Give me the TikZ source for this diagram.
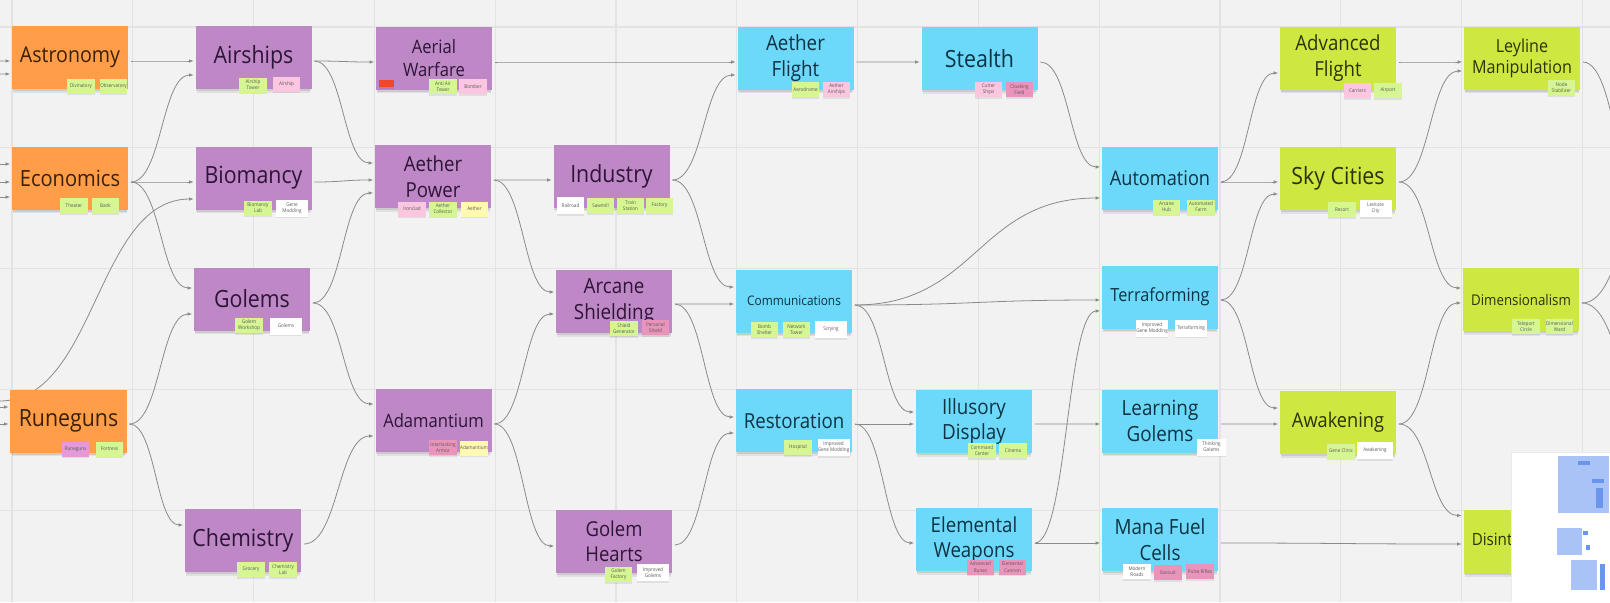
\documentclass[tikz,border=0pt]{standalone}
\usepackage{fontspec}
\setmainfont{Open Sans}[FakeStretch=0.9]
\usetikzlibrary{arrows.meta,calc,shadows,backgrounds}

\definecolor{board}{HTML}{F2F2F2}
\definecolor{gridc}{HTML}{E3E3E3}
\definecolor{orangebox}{HTML}{FF9D48}
\definecolor{purplebox}{HTML}{BE88C7}
\definecolor{bluebox}{HTML}{6CD8FA}
\definecolor{limebox}{HTML}{CEE741}
\definecolor{orangetext}{HTML}{3B2005}
\definecolor{purpletext}{HTML}{2E1437}
\definecolor{bluetext}{HTML}{0D3342}
\definecolor{limetext}{HTML}{2C3309}
\definecolor{greennote}{HTML}{D5F692}
\definecolor{pinknote}{HTML}{FBC6DF}
\definecolor{rosenote}{HTML}{EA94BB}
\definecolor{yellownote}{HTML}{FFF9B1}
\definecolor{violetnote}{HTML}{E39AD7}
\definecolor{rednote}{HTML}{F24726}
\definecolor{stickytext}{HTML}{5A5A5A}
\definecolor{linkc}{HTML}{8A8A8A}
\definecolor{mapblue}{HTML}{A9C3F7}
\definecolor{mapdark}{HTML}{6A95EC}

\newcommand\techfont[1]{\fontsize{#1}{14.5}\selectfont}
\newcommand\stickyfont{\fontsize{2.9}{3.5}\selectfont}

\begin{document}
\begin{tikzpicture}[x=0.2mm, y=-0.2mm]

        % Styles
        \tikzstyle{tech}=[minimum width=23.2mm, minimum height=12.6mm, inner sep=0pt, align=center, font=\techfont{13.5}, general shadow={fill=black, opacity=.07, shadow yshift=-.9mm, shadow scale=.975}, general shadow={fill=black, opacity=.09, shadow yshift=-.5mm, shadow scale=.99}]
        \tikzstyle{orange tech}=[tech, fill=orangebox, text=orangetext]
        \tikzstyle{purple tech}=[tech, fill=purplebox, text=purpletext]
        \tikzstyle{blue tech}=[tech, fill=bluebox, text=bluetext]
        \tikzstyle{lime tech}=[tech, fill=limebox, text=limetext]
        \tikzstyle{sticky}=[minimum width=5.5mm, minimum height=3mm, inner sep=0pt, align=center, font=\stickyfont, text=stickytext, general shadow={fill=black, opacity=.08, shadow yshift=-.3mm}]
        \tikzstyle{green note}=[sticky, fill=greennote]
        \tikzstyle{pink note}=[sticky, fill=pinknote]
        \tikzstyle{rose note}=[sticky, fill=rosenote]
        \tikzstyle{yellow note}=[sticky, fill=yellownote]
        \tikzstyle{violet note}=[sticky, fill=violetnote]
        \tikzstyle{white note}=[sticky, fill=white, minimum width=6.4mm, minimum height=3.4mm]
        \tikzstyle{red note}=[sticky, fill=rednote, minimum width=3mm, minimum height=1.4mm]
        \tikzstyle{gridline}=[draw=gridc, line width=.6pt]
        \tikzstyle{link}=[draw=linkc, line width=.45pt, -{Latex[length=.9mm,width=.7mm]}, shorten <=.5mm, shorten >=.3mm]
        \tikzstyle{hcurve}=[to path={let \p1=(\tikztostart), \p2=(\tikztotarget) in .. controls ({.5*\x1+.5*\x2},\y1) and ({.5*\x1+.5*\x2},\y2) .. (\tikztotarget)}]

        %board
        \useasboundingbox (0,0) rectangle (1610,602);
        \begin{pgfonlayer}{background}
            \fill[board] (0,0) rectangle (1610,602);
            \foreach \gx in {0,...,13}
                \draw[gridline] ({12+120.8*\gx},0) -- ({12+120.8*\gx},602);
            \foreach \gy in {0,...,4}
                \draw[gridline] (0,{27+120.8*\gy}) -- (1610,{27+120.8*\gy});
        \end{pgfonlayer}

        %first era
        \node[orange tech, font=\techfont{12.4}] (astro) at (70,57.5) {Astronomy};
        \node[orange tech, font=\techfont{12.7}] (econ) at (70,178) {Economics};
        \node[orange tech] (rune) at (68.5,421) {Runeguns};

        %purple column
        \node[purple tech] (air) at (253.5,57.5) {Airships};
        \node[purple tech] (bio) at (253.5,178) {Biomancy};
        \node[purple tech] (golem) at (252,299) {Golems};
        \node[purple tech] (chem) at (243,540.5) {Chemistry};
        \node[purple tech, font=\fontsize{10.5}{13}\selectfont] (aerial) at (434,58) {Aerial\\Warfare};
        \node[purple tech, font=\techfont{11.8}] (apower) at (433,176.5) {Aether\\Power};
        \node[purple tech, font=\techfont{10.5}] (adam) at (433.5,420.5) {Adamantium};
        \node[purple tech] (industry) at (611.5,176) {Industry};
        \node[purple tech, font=\techfont{11.9}] (arcane) at (614,301.5) {Arcane\\Shielding};
        \node[purple tech, font=\techfont{11.7}] (ghearts) at (614,541.5) {Golem\\Hearts};

        %blue column
        \node[blue tech, font=\techfont{11.9}] (aflight) at (795.5,58) {Aether\\Flight};
        \node[blue tech, font=\techfont{7.5}] (comm) at (794,301) {Communications};
        \node[blue tech, font=\techfont{11.8}] (resto) at (794,420.5) {Restoration};
        \node[blue tech] (stealth) at (979.5,58.5) {Stealth};
        \node[blue tech, font=\techfont{11.9}] (illus) at (974,421.5) {Illusory\\Display};
        \node[blue tech, font=\techfont{11.8}] (elem) at (974,539.5) {Elemental\\Weapons};
        \node[blue tech, font=\techfont{11.5}] (auto) at (1160,178.5) {Automation};
        \node[blue tech, font=\techfont{10.3}] (terra) at (1160,297) {Terraforming};
        \node[blue tech, font=\techfont{11.9}] (learn) at (1160,421) {Learning\\Golems};
        \node[blue tech, font=\techfont{11.9}] (mana) at (1160,539.5) {Mana Fuel\\Cells};

        %lime column
        \node[lime tech, font=\techfont{11.8}] (advfl) at (1338,58) {Advanced\\Flight};
        \node[lime tech] (sky) at (1338,178.5) {Sky Cities};
        \node[lime tech, font=\techfont{11.5}] (awak) at (1338,422.5) {Awakening};
        \node[lime tech, font=\fontsize{10.2}{12}\selectfont] (ley) at (1522,58) {Leyline\\Manipulation};
        \node[lime tech, font=\techfont{8.4}] (dim) at (1521,299.5) {Dimensionalism};
        \node[lime tech, font=\techfont{9.6}] (disin) at (1521.5,541.5) {Disintegration};

        %stickies
        \node[green note] (astro1) at (81,86) {Divinatory};
        \node[green note] (astro2) at (113.5,86) {Observatory};
        \node[green note] (econ1) at (74,205.5) {Theater};
        \node[green note] (econ2) at (105.5,205.5) {Bank};
        \node[violet note] (rune1) at (75.5,449) {Runeguns};
        \node[green note] (rune2) at (109.5,449) {Fortress};
        \node[green note] (air1) at (253,85) {Airship\\Tower};
        \node[pink note] (air2) at (286.5,84) {Airship};
        \node[green note] (bio1) at (258,208) {Biomancy\\Lab};
        \node[white note] (bio2) at (292,208) {Gene\\Modding};
        \node[green note] (golem1) at (249,325.5) {Golem\\Workshop};
        \node[white note] (golem2) at (286,326) {Golems};
        \node[green note] (chem1) at (251,569.5) {Grocery};
        \node[green note] (chem2) at (283,569.5) {Chemistry\\Lab};
        \node[red note] (aerial1) at (386.5,83.5) {};
        \node[green note] (aerial2) at (443,86.5) {Anti Air\\Tower};
        \node[pink note] (aerial3) at (473,86.5) {Bomber};
        \node[pink note] (apower1) at (412,209) {Ironclad};
        \node[green note] (apower2) at (443,209) {Aether\\Collector};
        \node[yellow note] (apower3) at (474.5,209) {Aether};
        \node[rose note] (adam1) at (443,447.5) {Interlocking\\Armor};
        \node[yellow note] (adam2) at (474,448) {Adamantium};
        \node[white note, minimum width=5.5mm] (industry1) at (570.5,205.5) {Railroad};
        \node[green note] (industry2) at (600.5,205.5) {Sawmill};
        \node[green note] (industry3) at (630.5,205.5) {Train\\Station};
        \node[green note] (industry4) at (659.5,205.5) {Factory};
        \node[green note] (arcane1) at (624,328.5) {Shield\\Generator};
        \node[rose note] (arcane2) at (655.5,327.5) {Personal\\Shield};
        \node[green note] (ghearts1) at (618.5,574.5) {Golem\\Factory};
        \node[white note] (ghearts2) at (653,572.5) {Improved\\Golems};
        \node[green note] (aflight1) at (805.5,89.5) {Aerodrome};
        \node[pink note] (aflight2) at (836.5,89.5) {Aether\\Airships};
        \node[green note] (comm1) at (764.5,329.5) {Bomb\\Shelter};
        \node[green note] (comm2) at (796.5,329.5) {Network\\Tower};
        \node[white note] (comm3) at (831,329.5) {Scrying};
        \node[green note] (resto1) at (798,447.5) {Hospital};
        \node[white note] (resto2) at (833.5,447.5) {Improved\\Gene Modding};
        \node[pink note] (stealth1) at (988.5,89.5) {Cutter\\Ships};
        \node[rose note] (stealth2) at (1019.5,89.5) {Cloaking\\Field};
        \node[green note] (illus1) at (982,450.5) {Command\\Center};
        \node[green note] (illus2) at (1013,450.5) {Cinema};
        \node[rose note] (elem1) at (980.5,567) {Advanced\\Runes};
        \node[rose note] (elem2) at (1012.5,567) {Elemental\\Cannon};
        \node[green note] (auto1) at (1166.5,207) {Arcane\\Hub};
        \node[green note] (auto2) at (1201,207) {Automated\\Farm};
        \node[white note] (terra1) at (1152,328) {Improved\\Gene Modding};
        \node[white note] (terra2) at (1191,328) {Terraforming};
        \node[white note, minimum width=5.8mm] (learn1) at (1211.5,447) {Thinking\\Golems};
        \node[white note, minimum width=5.6mm, minimum height=3mm] (mana1) at (1137,571.5) {Modern\\Roads};
        \node[rose note] (mana2) at (1168,572.5) {Exosuit};
        \node[rose note] (mana3) at (1200,571.5) {Pulse Rifles};
        \node[pink note] (advfl1) at (1357.5,90.5) {Carriers};
        \node[green note] (advfl2) at (1388,90.5) {Airport};
        \node[green note] (sky1) at (1342,209.5) {Resort};
        \node[white note] (sky2) at (1375.5,208.5) {Levitate\\City};
        \node[green note] (awak1) at (1341,451) {Gene Clinic};
        \node[white note, minimum width=7.2mm] (awak2) at (1375,450.5) {Awakening};
        \node[green note] (ley1) at (1561.5,87.5) {Node\\Stabilizer};
        \node[green note] (dim1) at (1526,326.5) {Teleport\\Circle};
        \node[green note] (dim2) at (1559.5,326.5) {Dimensional\\Ward};

        %loose ends off the board
        \coordinate (in1) at (-20,61);
        \coordinate (in2) at (-20,74);
        \coordinate (in3) at (-20,164);
        \coordinate (in4) at (-20,182);
        \coordinate (in5) at (-20,197);
        \coordinate (in6) at (-20,407);
        \coordinate (in7) at (-20,424);
        \coordinate (in8) at (-3,401);
        \coordinate (out1) at (1660,250);
        \coordinate (out2) at (1660,200);
        \coordinate (out3) at (1660,420);

        %connectors
        \begin{pgfonlayer}{background}
            \clip (0,0) rectangle (1610,602);
            \foreach \c/\b/\sb in {in1/astro/3.5, in2/astro/16.5, in3/econ/-14, in4/econ/4, in5/econ/19, in6/rune/-14, in7/rune/3}
                \draw[link] (\c) -- ($(\b.west)+(0,\sb)$);
            \draw[link] (in8) to[hcurve] ($(bio.west)+(0,21)$);
            \foreach \a/\sa/\b/\sb in {astro/3.5/air/3.5, econ/4/air/17.5, econ/4/bio/4, econ/4/golem/-11,
                rune/3/golem/15, rune/3/chem/-15.5, air/3.5/aerial/4, air/3.5/apower/-13.5,
                bio/4/apower/3.5, golem/4/apower/16.5, golem/4/adam/-16.5, chem/3.5/adam/15.5,
                aerial/4/aflight/4, apower/3.5/industry/4, apower/3.5/arcane/-9.5, adam/3.5/arcane/12.5,
                adam/3.5/ghearts/4.5, industry/4/aflight/17, industry/4/comm/-14, arcane/2.5/comm/3,
                arcane/2.5/resto/-3.5, ghearts/3.5/resto/12.5, aflight/4/stealth/3.5, stealth/3.5/auto/-11.5,
                comm/4/auto/19.5, comm/4/terra/3, comm/4/illus/-9.5, resto/3.5/illus/2.5,
                resto/3.5/elem/3.5, illus/2.5/learn/3, elem/3.5/mana/3.5, elem/3.5/terra/14,
                auto/3.5/advfl/15, auto/3.5/sky/3.5, terra/3/sky/15.5, terra/3/awak/-14.5,
                learn/3/awak/1.5, advfl/4/ley/4, sky/3.5/ley/13, sky/3.5/dim/-11.5,
                awak/1.5/dim/3.5, awak/1.5/disin/-26, mana/3.5/disin/2.5}
                \draw[link] ($(\a.east)+(0,\sa)$) to[hcurve] ($(\b.west)+(0,\sb)$);
            \foreach \a/\sa/\c in {ley/4/out1, dim/3.5/out2, dim/3.5/out3}
                \draw[link] ($(\a.east)+(0,\sa)$) to[hcurve] (\c);
        \end{pgfonlayer}

        %minimap
        \fill[white] (1511,452) rectangle (1610,602);
        \draw[black!8] (1511,452) -- (1511,602);
        \draw[black!8] (1511,452) -- (1610,452);
        \fill[mapblue] (1558,456) rectangle (1609,513);
        \fill[mapblue] (1557,528) rectangle (1582,555);
        \fill[mapblue] (1571,560) rectangle (1597,590);
        \fill[mapdark] (1578,461) rectangle (1590,465);
        \fill[mapdark] (1592,479) rectangle (1604,483);
        \fill[mapdark] (1596,488) rectangle (1603,508);
        \fill[mapdark] (1583,531) rectangle (1588,535);
        \fill[mapdark] (1600,564) rectangle (1605,590);
        \fill[mapdark] (1586,545) rectangle (1590,550);
\end{tikzpicture}
\end{document}
